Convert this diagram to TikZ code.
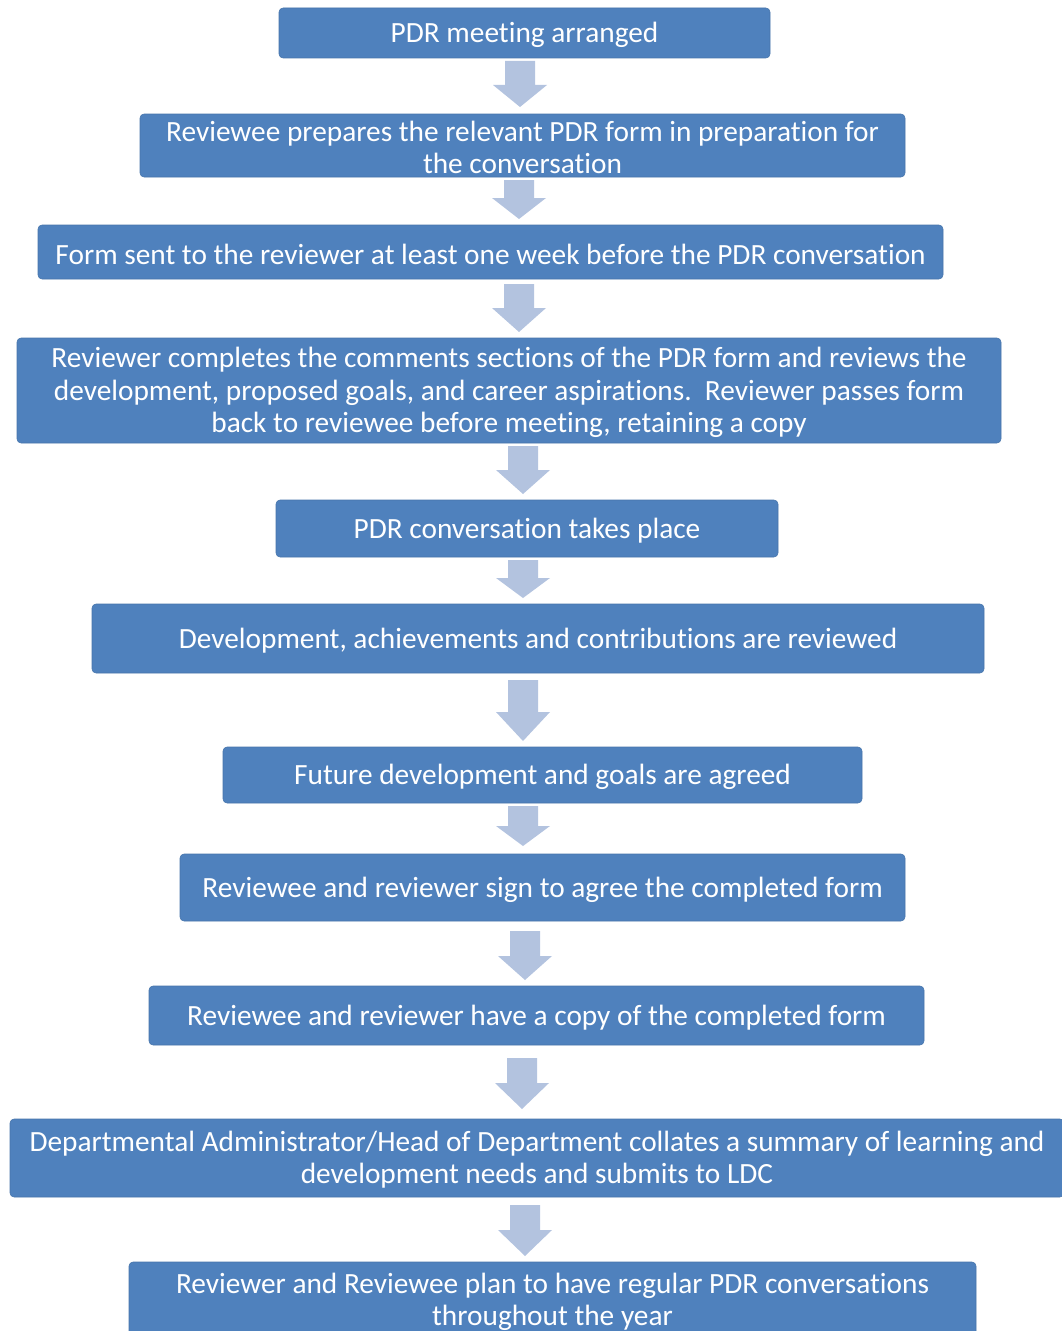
\documentclass[tikz,border=0pt]{standalone}
\usepackage{fontspec}
\setmainfont{Carlito}[Ligatures=NoCommon]
\usetikzlibrary{fit}
\definecolor{boxblue}{HTML}{4F81BD}
\definecolor{arrowblue}{HTML}{B3C3DF}
\tikzset{
  stepbox/.style={fill=boxblue, draw=boxblue!90!black, line width=0.4pt, rounded corners=3pt,
    inner sep=0pt},
  steptext/.style={text=white, align=center, inner sep=0pt, font=\fontsize{22}{24.2}\selectfont},
  blockarrow/.style={fill=arrowblue, draw=none}
}
% \barrow{cx}{ytop}{yhead}{ybot}
\newcommand{\barrow}[4]{%
  \fill[blockarrow] (#1-15,#2) -- (#1+15,#2) -- (#1+15,#3) -- (#1+27,#3) -- (#1,#4)
    -- (#1-27,#3) -- (#1-15,#3) -- cycle;}
\newcommand{\bx}[6]{%
  \coordinate (#1-a) at (#2,#3); \coordinate (#1-b) at (#4,#5);
  \node[stepbox, fit=(#1-a)(#1-b)] (#1) {};
  \node[steptext] (#1-t) at ([yshift=-1.5pt]#1.center) {#6};}
\begin{document}
\begin{tikzpicture}[x=0.75pt, y=-0.75pt]
\useasboundingbox (0,0) rectangle (1061,1331);
\bx{b1}{279}{8}{770}{58}{PDR meeting arranged}
\bx{b2}{140}{114}{905}{177}{Reviewee prepares the relevant PDR form in preparation for\\the conversation}
\bx{b3}{38}{225}{943}{279}{Form sent to the reviewer at least one week before the PDR conversation}
\bx{b4}{17}{338}{1001}{443}{Reviewer completes the comments sections of the PDR form and reviews the\\development, proposed goals, and career aspirations.\ \ Reviewer passes form\\back to reviewee before meeting, retaining a copy}
\bx{b5}{276}{500}{778}{557}{PDR conversation takes place}
\bx{b6}{92}{604}{984}{673}{Development, achievements and contributions are reviewed}
\bx{b7}{223}{747}{862}{803}{Future development and goals are agreed}
\bx{b8}{180}{854}{905}{921}{Reviewee and reviewer sign to agree the completed form}
\bx{b9}{149}{986}{924}{1045}{Reviewee and reviewer have a copy of the completed form}
\bx{b10}{10}{1119}{1064}{1197}{Departmental Administrator/Head of Department collates a summary of learning and\\development needs and submits to LDC}
\bx{b11}{129}{1262}{976}{1337}{Reviewer and Reviewee plan to have regular PDR conversations\\throughout the year}
\barrow{520}{61}{85}{107}
\barrow{519}{180}{198}{219}
\barrow{519}{284}{308}{332}
\barrow{523}{446}{470}{494}
\barrow{523}{560}{578}{598}
\barrow{523}{680}{712}{741}
\barrow{523}{806}{826}{846}
\barrow{525}{931}{956}{980}
\barrow{522}{1058}{1083}{1109}
\barrow{525}{1205}{1230}{1256}
\end{tikzpicture}
\end{document}
